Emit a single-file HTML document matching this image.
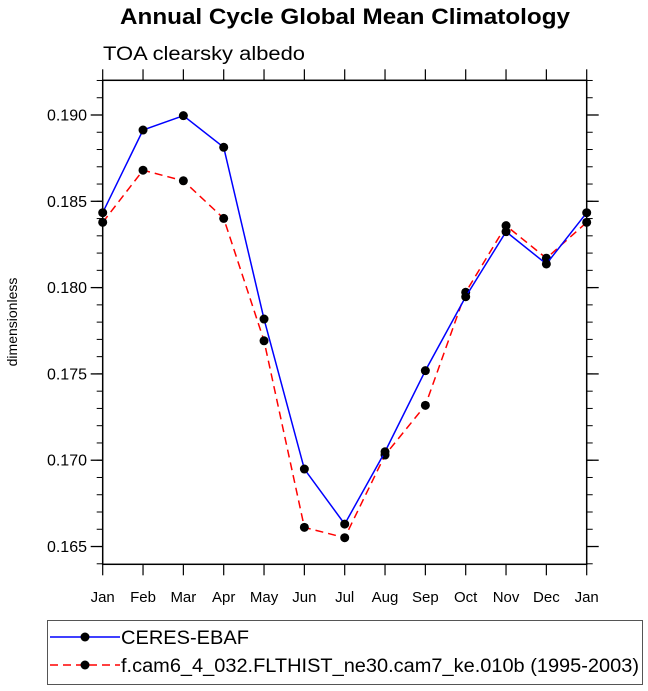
<!DOCTYPE html>
<html><head><meta charset="utf-8"><style>
body{margin:0;background:#fff;}
svg{display:block;font-family:"Liberation Sans",Arial,sans-serif;}
</style></head><body>
<svg id="chart" width="648" height="691" viewBox="0 0 648 691" xmlns="http://www.w3.org/2000/svg">
<text x="120" y="24" font-size="22" font-weight="bold" textLength="450" lengthAdjust="spacingAndGlyphs">Annual Cycle Global Mean Climatology</text>
<text x="103" y="60" font-size="19" textLength="202" lengthAdjust="spacingAndGlyphs">TOA clearsky albedo</text>
<text transform="translate(17,322) rotate(-90)" text-anchor="middle" font-size="14">dimensionless</text>
<g id="axes"></g>
<g id="series"></g>
<g>
<rect x="47.5" y="620.5" width="595" height="64" fill="none" stroke="#555" stroke-width="1"/>
<g>
<line x1="50" y1="637" x2="120" y2="637" stroke="#0000ff" stroke-width="1.5"/>
<circle cx="85" cy="637" r="4.5" fill="#000"/>
<text x="121" y="644" font-size="19" textLength="128" lengthAdjust="spacingAndGlyphs">CERES-EBAF</text>
</g>
<g>
<line x1="50" y1="665" x2="120" y2="665" stroke="#ff0000" stroke-width="1.5" stroke-dasharray="8,5"/>
<circle cx="85" cy="665" r="4.5" fill="#000"/>
<text x="121" y="672" font-size="19" textLength="518" lengthAdjust="spacingAndGlyphs">f.cam6_4_032.FLTHIST_ne30.cam7_ke.010b (1995-2003)</text>
</g>
</g>
</svg>
<script>
const months = ["Jan","Feb","Mar","Apr","May","Jun","Jul","Aug","Sep","Oct","Nov","Dec","Jan"];
const ceres = [0.18434,0.18913,0.18996,0.18813,0.17818,0.16949,0.1663,0.17049,0.17519,0.17947,0.18324,0.18137,0.18434];
const model = [0.18378,0.1868,0.18619,0.18401,0.17692,0.16611,0.16551,0.1703,0.17318,0.17973,0.18359,0.1817,0.18378];
const yTicks = [0.165,0.170,0.175,0.180,0.185,0.190];
const yTickLabels = ["0.165","0.170","0.175","0.180","0.185","0.190"];

const NS="http://www.w3.org/2000/svg";
const L=102.7,R=586.7,T=80.3,B=564.3;
const yMin=0.16397,yMax=0.19201;
function xs(i){return L+(R-L)*i/(months.length-1);}
function ys(v){return B-(v-yMin)/(yMax-yMin)*(B-T);}
function mk(tag,attrs,parent){const e=document.createElementNS(NS,tag);for(const k in attrs)e.setAttribute(k,attrs[k]);parent.appendChild(e);return e;}
const axes=document.getElementById('axes');
const frame=mk('rect',{x:L,y:T,width:R-L,height:B-T,fill:'none',stroke:'#000','stroke-width':1.5},axes);


months.forEach((m,i)=>{
  const x=xs(i);
  mk('line',{x1:x,y1:B,x2:x,y2:B+11,stroke:'#000','stroke-width':1.2},axes);
  mk('line',{x1:x,y1:T,x2:x,y2:T-11,stroke:'#000','stroke-width':1.2},axes);
  const t=mk('text',{x:x,y:602,'text-anchor':'middle','font-size':15},axes);
  t.textContent=m;
  
  
});
for(let k=0;k<=28;k++){
  const v=0.164+k*0.001;
  if(v>yMax+1e-9)break;
  const y=ys(v);
  mk('line',{x1:L,y1:y,x2:L-6,y2:y,stroke:'#000','stroke-width':1},axes);
  mk('line',{x1:R,y1:y,x2:R+6,y2:y,stroke:'#000','stroke-width':1},axes);
}
yTicks.forEach((v,i)=>{
  const y=ys(v);
  mk('line',{x1:L,y1:y,x2:L-12,y2:y,stroke:'#000','stroke-width':1.3},axes);
  mk('line',{x1:R,y1:y,x2:R+12,y2:y,stroke:'#000','stroke-width':1.3},axes);
  const t=mk('text',{x:87,y:y+5.5,'text-anchor':'end','font-size':16},axes);
  t.textContent=yTickLabels[i];
  
  
});
const sg=document.getElementById('series');
function drawSeries(vals,color,dash,name){
  const pts=vals.map((v,i)=>xs(i).toFixed(2)+','+ys(v).toFixed(2)).join(' ');
  const pl=mk('polyline',{points:pts,fill:'none',stroke:color,'stroke-width':1.5},sg);
  if(dash)pl.setAttribute('stroke-dasharray',dash);
  
  
  vals.forEach((v,i)=>{
    const c=mk('circle',{cx:xs(i),cy:ys(v),r:4.5,fill:'#000'},sg);
    
    
  });
}
drawSeries(model,'#ff0000','8,5','model');
drawSeries(ceres,'#0000ff',null,'ceres');
</script>
</body></html>
